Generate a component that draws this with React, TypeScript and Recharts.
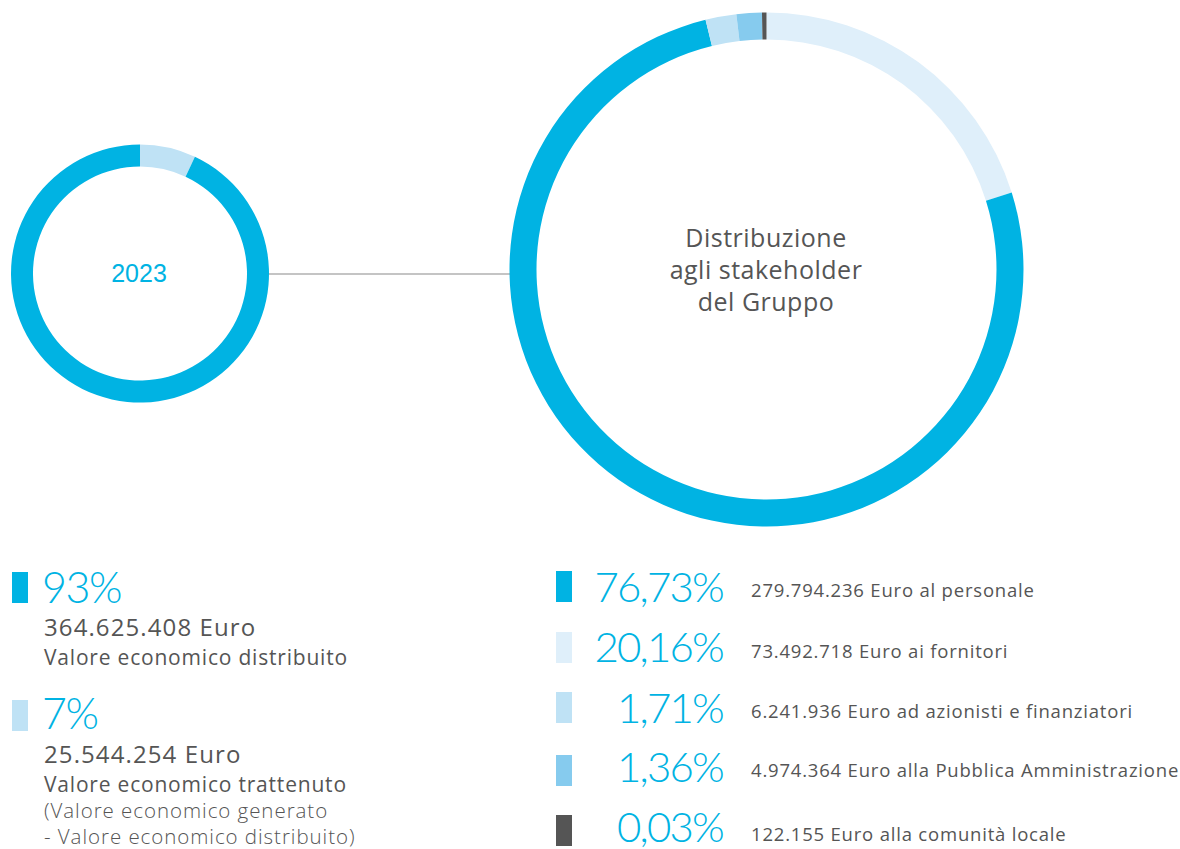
import React from "react";
import { PieChart, Pie, Cell } from "recharts";

const generatedNames = ["Valore economico trattenuto", "Valore economico distribuito"];
const generatedValues = [7, 93];
const generatedColors = ["#bfe2f5", "#00b3e3"];

const stakeholderNames = ["Fornitori", "Personale", "Azionisti e finanziatori", "Pubblica Amministrazione", "Comunità locale"];
const stakeholderValues = [20.16, 76.73, 1.71, 1.36, 0.03];
const stakeholderColors = ["#dfeffa", "#00b3e3", "#bfe2f5", "#86cbee", "#555555"];

const leftLegendPct = ["93%", "7%"];
const leftLegendColors = ["#00b3e3", "#bfe2f5"];

const rightLegendPct = ["76,73%", "20,16%", "1,71%", "1,36%", "0,03%"];
const rightLegendLabels = [
  "279.794.236 Euro al personale",
  "73.492.718 Euro ai fornitori",
  "6.241.936 Euro ad azionisti e finanziatori",
  "4.974.364 Euro alla Pubblica Amministrazione",
  "122.155 Euro alla comunità locale",
];
const rightLegendColors = ["#00b3e3", "#dfeffa", "#bfe2f5", "#86cbee", "#555555"];

const smallData = generatedNames.map((n, i) => ({ name: n, value: generatedValues[i] }));
const bigData = stakeholderNames.map((n, i) => ({ name: n, value: stakeholderValues[i] }));

const FONT = "'Open Sans', Lato, sans-serif";
const PCT_FONT = "Lato, 'Open Sans', sans-serif";
const CYAN = "#00b3e3";
const GREY = "#555555";

export default function App() {
  const rightRowsPctBase = [602, 662, 723, 782, 842];
  const rightRowsLblBase = [597, 658, 718, 777, 841];
  const rightRowsMarkTop = [571, 632, 692, 755, 815];
  return (
    <div style={{ position: "absolute", left: 0, top: 0, width: 1180, height: 849, background: "#fff", overflow: "hidden" }}>
      <div style={{ position: "absolute", left: 269, top: 273, width: 242, height: 1.5, background: "#c4c4c4" }} />
      <div style={{ position: "absolute", left: 0, top: 0 }}>
        <PieChart width={1180} height={540} margin={{ top: 0, right: 0, bottom: 0, left: 0 }}>
          <Pie
            data={smallData}
            dataKey="value"
            cx={140}
            cy={273.5}
            innerRadius={107}
            outerRadius={129}
            startAngle={90}
            endAngle={-270}
            stroke="none"
            isAnimationActive={false}
          >
            {smallData.map((d, i) => (
              <Cell key={d.name} fill={generatedColors[i]} />
            ))}
          </Pie>
          <Pie
            data={bigData}
            dataKey="value"
            cx={766.5}
            cy={269.5}
            innerRadius={230}
            outerRadius={257}
            startAngle={90}
            endAngle={-270}
            minAngle={0.9}
            stroke="none"
            isAnimationActive={false}
          >
            {bigData.map((d, i) => (
              <Cell key={d.name} fill={stakeholderColors[i]} />
            ))}
          </Pie>
        </PieChart>
      </div>
      <svg width={1180} height={849} style={{ position: "absolute", left: 0, top: 0 }}>
        <text x={139} y={282} textAnchor="middle" fontFamily="'Liberation Sans', Arial, sans-serif" fontSize={25} fill={CYAN}>2023</text>
        <text textAnchor="middle" fontFamily={FONT} fontSize={25} letterSpacing={0.5} fill={GREY}>
          <tspan x={766} y={247}>Distribuzione</tspan>
          <tspan x={766} y={279}>agli stakeholder</tspan>
          <tspan x={766} y={311}>del Gruppo</tspan>
        </text>

        {leftLegendColors.map((c, i) => (
          <rect key={"lm" + i} x={12} y={i === 0 ? 572 : 700} width={16} height={31} fill={c} />
        ))}
        {leftLegendPct.map((p, i) => (
          <text key={"lp" + i} x={42} y={i === 0 ? 603 : 729} fontFamily={PCT_FONT} fontSize={43} fontWeight={300} letterSpacing={-1.5} fill={CYAN}>{p}</text>
        ))}
        <text x={44} y={636} fontFamily={FONT} fontSize={24} letterSpacing={1.1} fill={GREY}>364.625.408 Euro</text>
        <text x={44} y={665} fontFamily={FONT} fontSize={21} letterSpacing={0.8} fill={GREY}>Valore economico distribuito</text>
        <text x={44} y={763} fontFamily={FONT} fontSize={24} letterSpacing={1.1} fill={GREY}>25.544.254 Euro</text>
        <text x={44} y={792} fontFamily={FONT} fontSize={21} letterSpacing={0.8} fill={GREY}>Valore economico trattenuto</text>
        <text x={44} y={818} fontFamily={FONT} fontSize={20.5} fontWeight={300} letterSpacing={0.95} fill={GREY}>(Valore economico generato</text>
        <text x={44} y={844} fontFamily={FONT} fontSize={20.5} fontWeight={300} letterSpacing={0.95} fill={GREY}>- Valore economico distribuito)</text>

        {rightLegendColors.map((c, i) => (
          <rect key={"rm" + i} x={556} y={rightRowsMarkTop[i]} width={16} height={31} fill={c} />
        ))}
        {rightLegendPct.map((p, i) => (
          <text key={"rp" + i} x={723} y={rightRowsPctBase[i]} textAnchor="end" fontFamily={PCT_FONT} fontSize={42} fontWeight={300} letterSpacing={-1.8} fill={CYAN}>{p}</text>
        ))}
        {rightLegendLabels.map((l, i) => (
          <text key={"rl" + i} x={751} y={rightRowsLblBase[i]} fontFamily={FONT} fontSize={18.5} letterSpacing={0.8} fill={GREY}>{l}</text>
        ))}
      </svg>
    </div>
  );
}
